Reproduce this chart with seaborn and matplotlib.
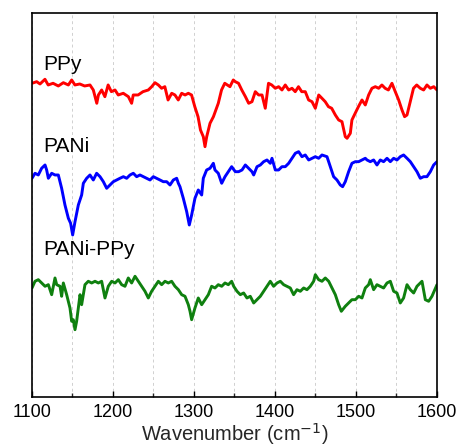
import numpy as np
import pandas as pd
import matplotlib
matplotlib.use("Agg")
import matplotlib.pyplot as plt
import seaborn as sns
from matplotlib.ticker import MultipleLocator

# ---------------- data ----------------
ppy_wn = [1100, 1105.8, 1109.9, 1116, 1120, 1126, 1132.5, 1138.7, 1144.9, 1149, 1153, 1159, 1165,
          1171.6, 1175.7, 1180, 1182, 1186, 1190, 1194, 1198, 1202.5, 1206.5, 1212.7, 1219, 1223,
          1225, 1231, 1237, 1243.6, 1247.8, 1251.8, 1256, 1260, 1264, 1268, 1272.5, 1276.5, 1280.6,
          1284.8, 1289, 1293, 1297, 1301, 1305, 1308, 1311.5, 1313.6, 1315.7, 1319.8, 1324, 1330,
          1334, 1338, 1344.4, 1348.5, 1351, 1355, 1359, 1363.5, 1367.5, 1371.6, 1375.7, 1379.8,
          1384, 1388, 1392, 1396, 1400.4, 1404.5, 1408.6, 1412.7, 1416.9, 1421, 1425, 1429, 1433,
          1437.4, 1441.5, 1445.7, 1449.8, 1454, 1458, 1462, 1466, 1470, 1474.5, 1478.6, 1482.7,
          1486.8, 1489, 1493, 1495, 1499, 1503, 1507.4, 1511.5, 1515.6, 1519.7, 1523.9, 1528, 1532,
          1536, 1540, 1544.4, 1548.5, 1552.7, 1556.8, 1560, 1563, 1567, 1571, 1575, 1579.4, 1583.5,
          1587.6, 1591.8, 1596, 1600]
ppy_t = [31.37, 31.53, 31.30, 31.77, 31.20, 31.37, 31.10, 31.43, 31.20, 31.70, 31.20, 31.30, 31.10,
         31.20, 30.70, 29.37, 30.20, 30.70, 30.03, 31.20, 30.53, 30.70, 30.20, 30.37, 30.03, 29.37,
         30.20, 30.20, 30.53, 30.70, 31.03, 31.43, 31.20, 30.87, 31.03, 29.70, 30.37, 30.20, 29.70,
         30.37, 30.20, 30.37, 30.20, 29.03, 28.03, 26.70, 26.03, 25.03, 26.03, 27.37, 28.03, 29.37,
         30.70, 31.37, 31.03, 31.70, 31.53, 31.37, 30.70, 30.03, 29.37, 29.53, 30.53, 30.20,
         30.20, 28.87, 31.37, 31.20, 30.87, 31.03, 30.70, 31.20, 30.70, 30.87, 30.53, 31.03, 30.53,
         30.53, 29.70, 29.53, 28.87, 30.20, 29.87, 29.53, 29.03, 28.87, 28.20, 27.70, 27.53,
         26.03, 25.87, 26.37, 27.70, 28.37, 29.03, 29.70, 29.20, 30.20, 30.87, 31.03, 30.87, 31.20,
         30.87, 30.70, 31.37, 30.53, 29.70, 28.70, 28.03, 28.20, 29.53, 30.87, 31.20, 30.87, 30.70,
         31.20, 30.87, 31.03, 30.70]

pani_wn = [1100, 1103.7, 1107.8, 1111.9, 1116.1, 1118.1, 1120.2, 1124.3, 1128.4, 1132.5, 1136.6,
           1140.7, 1144.9, 1147.7, 1150.2, 1153.1, 1157.2, 1161.3, 1163.4, 1167.5, 1171.6, 1175.7,
           1179.8, 1184, 1188.1, 1192.2, 1196.3, 1200.4, 1204.5, 1208.6, 1212.8, 1216.9, 1221,
           1225.1, 1229.2, 1233.3, 1237.5, 1241.6, 1245.7, 1249.8, 1253.9, 1258, 1262.1, 1266.3,
           1270.4, 1274.5, 1278.6, 1280.7, 1282.7, 1286.8, 1291, 1294.2, 1297.1, 1301.2, 1305.3,
           1309.5, 1311.5, 1315.6, 1319.8, 1323.9, 1325.9, 1330, 1334.2, 1338.3, 1342.4, 1346.5,
           1349.4, 1351, 1355.1, 1359.3, 1363.4, 1367.5, 1371.6, 1373.7, 1377.8, 1381.9, 1386,
           1390.1, 1394.2, 1396.3, 1400.4, 1404.5, 1408.6, 1412.7, 1416.9, 1421, 1425.1, 1429.2,
           1433.3, 1437.4, 1441.6, 1445.7, 1449.8, 1453.9, 1458, 1464.2, 1468.3, 1472.4, 1476.5,
           1480.6, 1483.5, 1486.8, 1490.9, 1495, 1499.2, 1503.3, 1507.4, 1511.5, 1513.6, 1517.7,
           1521.8, 1525.9, 1530, 1534.1, 1538.3, 1542.4, 1546.5, 1550.6, 1554.7, 1558.8, 1563,
           1567.1, 1571.2, 1575.3, 1579.4, 1583.5, 1587.6, 1591.8, 1595.9, 1600]
pani_t = [21.87, 22.37, 22.20, 22.87, 23.20, 22.70, 21.87, 22.37, 22.20, 22.20, 20.87,
          19.20, 17.87, 17.37, 16.20, 17.53, 19.20, 20.20, 21.37, 21.87, 22.20, 21.70,
          22.37, 22.03, 21.53, 20.87, 21.20, 21.53, 21.70, 21.87, 22.03, 21.87, 22.20,
          22.37, 22.03, 22.20, 22.03, 21.87, 21.70, 22.03, 21.87, 21.70, 21.53, 21.53,
          21.20, 21.70, 21.87, 21.37, 21.03, 19.87, 18.53, 17.20, 18.20, 19.87, 20.70,
          20.20, 21.87, 22.70, 22.87, 23.37, 22.70, 22.37, 21.37, 22.03, 22.53, 23.03,
          22.70, 22.53, 22.53, 22.70, 23.20, 22.87, 22.53, 22.20, 23.03, 23.20, 23.53,
          23.70, 23.37, 23.87, 22.70, 22.70, 23.03, 23.03, 23.37, 23.87, 24.37, 24.53,
          24.03, 24.20, 23.70, 23.87, 24.03, 23.87, 24.20, 24.03, 23.03, 22.03, 21.70,
          21.20, 21.03, 21.53, 22.53, 23.37, 23.53, 23.53, 23.70, 23.87, 23.70, 23.53,
          23.70, 23.20, 23.70, 23.53, 23.87, 23.53, 23.87, 23.70, 24.03, 24.20, 23.87,
          23.53, 23.03, 22.53, 21.87, 22.03, 22.03, 22.53, 23.20, 23.53]

comp_wn = [1100, 1103.7, 1107.8, 1111.9, 1116.1, 1120.2, 1124.3, 1128.4, 1130.5, 1134.6, 1136.6,
           1138.7, 1142.8, 1146.9, 1149, 1151, 1153.1, 1155.1, 1159.3, 1161.3, 1165.4, 1169.5,
           1173.7, 1177.8, 1181.9, 1186, 1190.1, 1194.2, 1198.4, 1202.5, 1206.6, 1210.7, 1214.8,
           1218.9, 1223, 1227.2, 1231.3, 1235.4, 1239.5, 1243.6, 1247.7, 1251.9, 1256, 1260.1,
           1264.2, 1268.3, 1272.4, 1276.5, 1280.7, 1284.8, 1288.9, 1293, 1295.1, 1297.1, 1301.2,
           1305.3, 1309.5, 1313.6, 1317.7, 1321.8, 1325.9, 1330, 1334.2, 1338.3, 1342.4, 1346.5,
           1349, 1353.1, 1357.2, 1361.3, 1365.4, 1369.5, 1373.7, 1377.8, 1381.9, 1386, 1390.1,
           1394.2, 1398.3, 1402.5, 1406.6, 1410.7, 1414.8, 1418.9, 1423, 1427.1, 1431.3, 1435.4,
           1439.5, 1443.6, 1447.7, 1449.8, 1453.9, 1458, 1462.1, 1466.3, 1470.4, 1474.5, 1478.6,
           1481.9, 1486.8, 1490.9, 1495, 1499.2, 1503.3, 1507.4, 1511.5, 1515.6, 1517.7, 1521.8,
           1525.9, 1530, 1534.1, 1538.3, 1542.4, 1546.5, 1550.6, 1554.7, 1558.8, 1563, 1567.1,
           1571.2, 1575.3, 1579.4, 1581.5, 1585.6, 1589.7, 1593.8, 1600]
comp_t = [10.90, 11.57, 11.73, 11.40, 11.07, 11.23, 10.23, 11.90, 11.23, 11.07, 10.07,
          11.40, 10.23, 8.90, 7.57, 7.73, 6.73, 7.57, 10.23, 9.23, 11.23, 11.57,
          11.40, 11.57, 11.40, 11.57, 9.90, 11.07, 11.57, 11.40, 11.73, 11.23, 11.07,
          11.90, 11.40, 12.07, 11.57, 11.07, 10.57, 9.90, 10.57, 11.07, 11.57, 11.23,
          11.57, 11.40, 11.57, 11.07, 10.73, 10.23, 10.07, 9.23, 8.57, 7.73, 8.90,
          9.90, 9.23, 9.73, 10.23, 11.07, 10.90, 11.23, 11.07, 11.40, 11.23, 11.57,
          11.07, 10.57, 10.23, 10.40, 9.90, 10.07, 9.40, 9.73, 10.07, 10.57, 11.07,
          11.57, 11.07, 11.40, 11.57, 11.23, 11.07, 10.90, 10.23, 10.73, 10.57, 10.90,
          10.73, 11.07, 11.57, 12.23, 11.73, 11.57, 11.90, 11.57, 10.90, 10.23, 9.23,
          8.57, 9.07, 9.40, 9.73, 9.73, 10.07, 9.90, 10.90, 11.23, 11.73, 10.73,
          11.23, 11.07, 10.90, 11.40, 11.57, 10.57, 10.40, 9.40, 9.90, 11.23, 10.73,
          10.40, 11.07, 11.40, 11.57, 9.73, 9.57, 10.07, 11.23]

labels = ["PPy", "PANi", "PANi-PPy"]
colors = ["#ff0000", "#0000ff", "#0f800f"]
label_pos_t = [32.7, 24.5, 14.2]
xticks = [1100, 1200, 1300, 1400, 1500, 1600]

df = pd.concat([
    pd.DataFrame({"wn": ppy_wn, "T": ppy_t, "sample": "PPy"}),
    pd.DataFrame({"wn": pani_wn, "T": pani_t, "sample": "PANi"}),
    pd.DataFrame({"wn": comp_wn, "T": comp_t, "sample": "PANi-PPy"}),
])

# ---------------- style ----------------
sns.set_theme(style="ticks")
plt.rcParams["font.family"] = ["Liberation Sans", "DejaVu Sans"]

fig = plt.figure(figsize=(4.61, 4.46), dpi=100)
ax = fig.add_axes([0.0694, 0.1099, 0.8785, 0.8610])

sns.lineplot(data=df, x="wn", y="T", hue="sample", palette=dict(zip(labels, colors)),
             estimator=None, sort=False, linewidth=2.1, legend=False, ax=ax)

ax.set_xlim(1100, 1600)
ax.set_ylim(0, 38.4)
ax.set_xticks(xticks)
ax.set_xticklabels([str(t) for t in xticks], fontsize=13)
ax.xaxis.set_minor_locator(MultipleLocator(50))
ax.set_yticks([])
ax.set_ylabel("")
ax.set_xlabel("Wavenumber (cm$^{-1}$)", fontsize=14.5, labelpad=0)

ax.grid(True, which="both", axis="x", color="#d0d0d0", linestyle=(0, (3, 3)), linewidth=0.7)
ax.set_axisbelow(True)
ax.tick_params(axis="x", which="major", direction="in", length=4, width=1, pad=5, colors="black")
ax.tick_params(axis="x", which="minor", direction="in", length=3, width=1)
for sp in ax.spines.values():
    sp.set_visible(True)
    sp.set_color("black")
    sp.set_linewidth(1.2)

for lab, yy in zip(labels, label_pos_t):
    ax.text(1114, yy, lab, fontsize=15, color="black", ha="left", va="baseline")

fig.savefig("out.png", dpi=100, facecolor="white")
